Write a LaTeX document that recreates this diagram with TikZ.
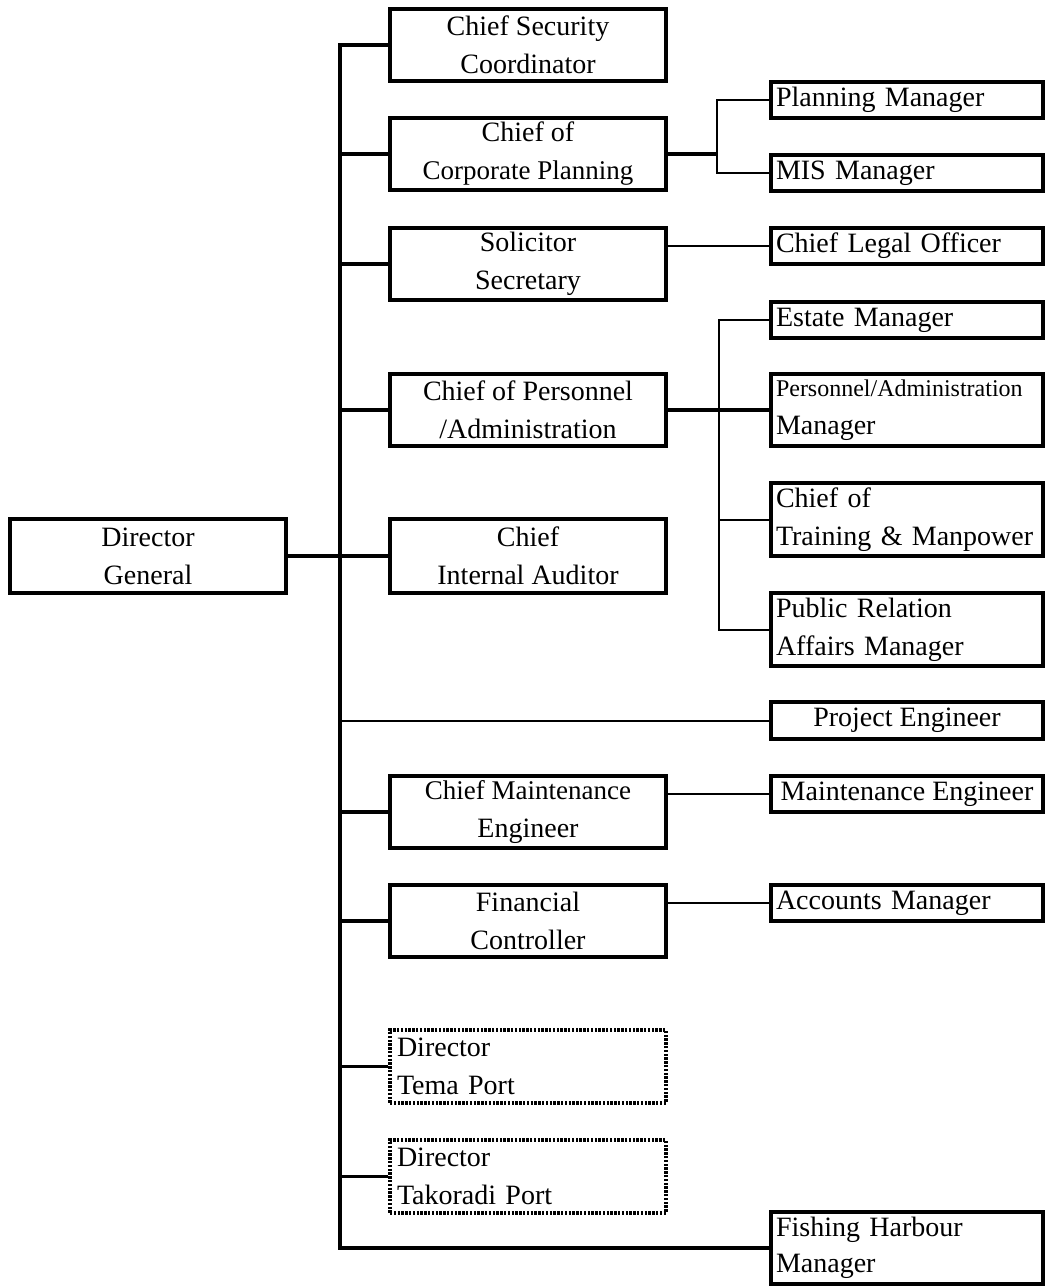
\documentclass[tikz,border=0pt]{standalone}
\usepackage{fontspec}
\setmainfont{Liberation Serif}
\begin{document}
\begin{tikzpicture}[x=1pt,y=-1pt,
  box/.style={draw, line width=3.4pt, rectangle, inner sep=0pt, font=\fontsize{28}{38}\selectfont},
  mid/.style={box, minimum width=276pt, minimum height=72pt, align=center},
  midl/.style={box, minimum width=276pt, minimum height=73pt, text width=262pt, align=left,
    line width=3.2pt, dash pattern=on 2.4pt off 1.4pt},
  rbox/.style={box, minimum width=272pt, minimum height=36pt, text width=262pt, align=left},
  rboxc/.style={box, minimum width=272pt, minimum height=36pt, align=center},
  conn/.style={line width=3.4pt, line join=miter},
  thinline/.style={line width=2pt, line join=miter}
]
\useasboundingbox (0,0) rectangle (1046,1286);

% left
\node[mid, minimum height=74pt] (dg) at (148,556) {Director\\General};

% middle column
\node[mid] (csc) at (528,45) {Chief Security\\Coordinator};
\node[mid] (ccp) at (528,154) {Chief of\\{\fontsize{27}{38}\selectfont Corporate Planning}};
\node[mid] (ss) at (528,264) {Solicitor\\Secretary};
\node[mid] (cpa) at (528,410) {Chief of Personnel\\/Administration};
\node[mid, minimum height=74pt] (cia) at (528,556) {Chief\\Internal Auditor};
\node[mid] (cme) at (528,812) {{\fontsize{27}{38}\selectfont Chief Maintenance}\\Engineer};
\node[mid] (fc) at (528,921) {Financial\\Controller};
\node[midl] (tema) at (528,1066.5) {Director\\Tema Port};
\node[midl] (tak) at (528,1176.5) {Director\\Takoradi Port};

% right column
\node[rbox] (pm) at (907,100) {Planning Manager};
\node[rbox] (mis) at (907,173) {MIS Manager};
\node[rbox] (clo) at (907,246) {Chief Legal Officer};
\node[rbox] (em) at (907,320) {Estate Manager};
\node[rbox, minimum height=72pt] (pam) at (907,410) {{\fontsize{24}{38}\selectfont Personnel/Administration}\\Manager};
\node[rbox, minimum height=73pt] (ctm) at (907,519.5) {Chief of\\Training \& Manpower};
\node[rbox, minimum height=73pt] (pram) at (907,629.5) {Public Relation\\Affairs Manager};
\node[rboxc, minimum height=37pt] (pe) at (907,720.5) {Project Engineer};
\node[rboxc] (me) at (907,794) {Maintenance Engineer};
\node[rbox] (am) at (907,903) {Accounts Manager};
\node[rbox, minimum height=72pt, font=\fontsize{28}{36}\selectfont] (fhm) at (907,1248) {Fishing Harbour\\Manager};

% spine
\coordinate (sptop) at (340,45);
\coordinate (spbot) at (340,1248);
\draw[conn] (csc.west) -- (sptop) -- (spbot) -- (fhm.west);
\draw[conn] (dg.east) -- (cia.west);
\foreach \n in {ccp,ss,cpa,cme,fc,tema,tak}
  \draw[conn] (\n.west -| sptop) -- (\n.west);
\draw[thinline] (pe.west -| sptop) -- (pe.west);

% corporate planning branch
\coordinate (b1) at (717,154);
\draw[conn] (ccp.east) -- (b1);
\draw[thinline] (pm.west) -- (pm.west -| b1) -- (mis.west -| b1) -- (mis.west);

% solicitor
\draw[thinline] (clo.west -| ss.east) -- (clo.west);

% personnel branch
\coordinate (b2) at (719,410);
\draw[conn] (cpa.east) -- (pam.west);
\draw[thinline] (em.west) -- (em.west -| b2) -- (pram.west -| b2) -- (pram.west);
\draw[thinline] (ctm.west -| b2) -- (ctm.west);

% maintenance, finance
\draw[thinline] (me.west -| cme.east) -- (me.west);
\draw[thinline] (am.west -| fc.east) -- (am.west);
\end{tikzpicture}
\end{document}
